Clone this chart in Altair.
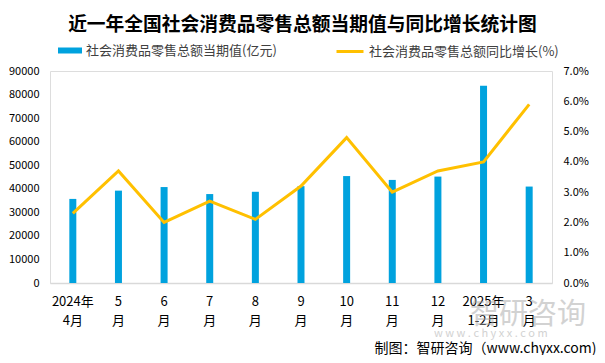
import altair as alt
import pandas as pd

months = ["2024年|4月", "5|月", "6|月", "7|月", "8|月", "9|月", "10|月", "11|月", "12|月", "2025年|1-2月", "3|月"]
values = [35699, 39211, 40732, 37757, 38726, 41112, 45396, 43763, 45172, 83731, 40940]
growth = [2.3, 3.7, 2.0, 2.7, 2.1, 3.2, 4.8, 3.0, 3.7, 4.0, 5.9]

bar_name = "社会消费品零售总额当期值(亿元)"
line_name = "社会消费品零售总额同比增长(%)"
title_text = "近一年全国社会消费品零售总额当期值与同比增长统计图"
footer_text = "制图：智研咨询（www.chyxx.com)"
watermark_main = ["智研咨询"]
watermark_url = ["w w w . c h y x x . c o m"]

df = pd.DataFrame({"month": months, "value": values, "growth": growth})

FONT = "Noto Sans CJK SC"
BLUE = "#00A2DE"
YELLOW = "#FFC000"

x = alt.X(
    "month:N",
    sort=months,
    scale=alt.Scale(paddingInner=0, paddingOuter=0),
    axis=alt.Axis(
        title=footer_text,
        titleFont=FONT,
        titleFontSize=14,
        titleFontWeight="normal",
        titleColor="#000000",
        titleX=546,
        titleY=65,
        titleAlign="right",
        titleBaseline="middle",
        labelExpr="split(datum.value, '|')",
        labelAngle=0,
        labelFont=FONT,
        labelFontSize=13,
        labelLineHeight=19,
        labelColor="#000000",
        labelPadding=12,
        labelBaseline="top",
        ticks=False,
        domainColor="#D9D9D9",
        domainWidth=1.5,
        grid=False,
    ),
)

bars = alt.Chart(df).mark_bar(size=7).encode(
    x=x,
    y=alt.Y(
        "value:Q",
        scale=alt.Scale(domain=[0, 90000], nice=False),
        axis=alt.Axis(
            title=None,
            values=list(range(0, 90001, 10000)),
            format="d",
            labelFont=FONT,
            labelFontSize=11,
            labelColor="#000000",
            labelPadding=11,
            ticks=False,
            domain=False,
            grid=False,
        ),
    ),
    color=alt.Color(
        "bar_label:N",
        scale=alt.Scale(domain=[bar_name], range=[BLUE]),
        legend=alt.Legend(
            title=None,
            orient="none",
            legendX=8,
            legendY=-32.5,
            direction="horizontal",
            symbolType="M-1,-0.25H1V0.25H-1Z",
            symbolSize=576,
            symbolStrokeWidth=0,
            labelFont=FONT,
            labelFontSize=13,
            labelColor="#404040",
            labelOffset=4,
            labelLimit=400,
            padding=0,
        ),
    ),
).transform_calculate(bar_label=f"'{bar_name}'")

line = alt.Chart(df).mark_line(strokeWidth=3, color=YELLOW).encode(
    x=x,
    y=alt.Y(
        "growth:Q",
        scale=alt.Scale(domain=[0, 7], nice=False),
        axis=alt.Axis(
            title=None,
            orient="right",
            values=[0, 1, 2, 3, 4, 5, 6, 7],
            labelExpr="format(datum.value, '.1f') + '%'",
            labelFont=FONT,
            labelFontSize=11,
            labelColor="#000000",
            labelPadding=11,
            ticks=False,
            domain=False,
            grid=False,
        ),
    ),
    stroke=alt.Stroke(
        "line_label:N",
        scale=alt.Scale(domain=[line_name], range=[YELLOW]),
        legend=alt.Legend(
            title=None,
            orient="none",
            legendX=285,
            legendY=-34.5,
            direction="horizontal",
            symbolType="stroke",
            symbolSize=729,
            symbolStrokeWidth=3,
            labelFont=FONT,
            labelFontSize=13,
            labelColor="#404040",
            labelOffset=4,
            labelLimit=400,
            padding=0,
        ),
    ),
).transform_calculate(line_label=f"'{line_name}'")

# faint watermark of the source, below the plot area as in the reference
wm1 = alt.Chart(pd.DataFrame({"t": watermark_main})).mark_text(
    font=FONT, fontSize=29, color="#A6A6A6", opacity=0.5, align="left", baseline="middle"
).encode(text="t:N", x=alt.value(420), y=alt.value(244))

wm2 = alt.Chart(pd.DataFrame({"t": watermark_url})).mark_text(
    font=FONT, fontSize=11, color="#A6A6A6", opacity=0.5, align="left", baseline="middle"
).encode(text="t:N", x=alt.value(384), y=alt.value(263))

chart = (
    alt.layer(bars, line, wm1, wm2)
    .resolve_scale(y="independent", color="independent", stroke="independent")
    .properties(
        width=502,
        height=212,
        autosize=alt.AutoSizeParams(type="none"),
        padding={"left": 42, "top": 63, "right": 45, "bottom": 72},
        title=alt.TitleParams(
            text=title_text,
            font=FONT,
            fontSize=18.75,
            fontWeight="bold",
            color="#000000",
            anchor="middle",
            frame="group",
            dx=1.5,
            offset=2,
        ),
    )
    .configure_view(stroke=None)
    .configure(background="white")
)

chart.save("out.html", embed_options={"renderer": "svg", "actions": False})
